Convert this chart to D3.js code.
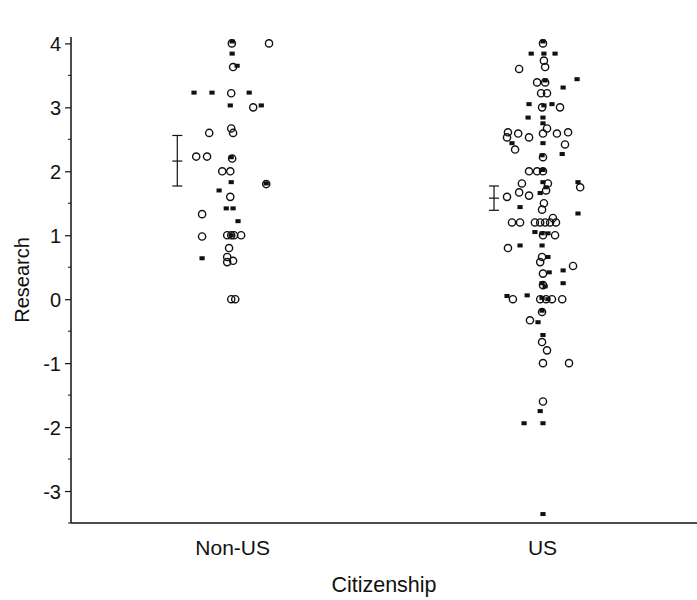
<!DOCTYPE html>
<html>
<head>
<meta charset="utf-8">
<script src="https://cdn.jsdelivr.net/npm/d3@7"></script>
<style>
  html, body { margin: 0; padding: 0; background: #fff; }
  svg text { font-family: "Liberation Sans", Arial, sans-serif; fill: #111; }
</style>
</head>
<body>
<svg id="chart" width="697" height="600"></svg>
<script>
// ---- data ----
const categories = ["Non-US", "US"];
const yTicks = [-3, -2, -1, 0, 1, 2, 3, 4];

// [position (category index + jitter), research score]
const nonUsCircles = [
  [0.999, 4.0], [1.119, 4.0], [1.003, 3.63], [0.997, 3.22], [1.068, 3.0],
  [0.926, 2.6], [0.997, 2.67], [1.003, 2.6], [0.884, 2.23], [0.919, 2.23],
  [1.0, 2.2], [0.968, 2.0], [0.994, 2.0], [1.11, 1.8], [0.994, 1.6],
  [0.903, 1.33], [0.903, 0.98], [0.984, 1.0], [0.997, 1.0], [1.006, 1.0],
  [1.029, 1.0], [0.99, 0.8], [0.984, 0.66], [0.984, 0.58], [1.003, 0.6],
  [0.997, 0.0], [1.01, 0.0]
];
const nonUsSquares = [
  [1.0, 4.03], [1.0, 3.84], [1.016, 3.65], [0.877, 3.23], [0.935, 3.23],
  [1.055, 3.23], [0.994, 3.03], [1.094, 3.03], [0.997, 2.22], [1.11, 1.81],
  [0.997, 1.83], [0.958, 1.7], [0.981, 1.42], [1.003, 1.42], [1.019, 1.22],
  [0.903, 0.64], [0.997, 1.0]
];
const usCircles = [
  [2.003, 4.0], [2.006, 3.73], [2.01, 3.63], [1.926, 3.6], [1.984, 3.39],
  [2.01, 3.39], [1.997, 3.22], [2.016, 3.22], [2.0, 3.0], [2.058, 3.0],
  [1.89, 2.61], [1.923, 2.59], [1.887, 2.53], [1.958, 2.53], [1.913, 2.34],
  [2.003, 2.59], [2.016, 2.67], [2.048, 2.59], [2.084, 2.61], [2.074, 2.42],
  [2.003, 2.22], [1.958, 2.0], [1.984, 2.0], [2.003, 2.0], [2.123, 1.75],
  [1.935, 1.81], [1.926, 1.67], [1.958, 1.62], [1.887, 1.6], [2.006, 1.5],
  [2.0, 1.4], [2.013, 1.7], [2.019, 1.81], [1.903, 1.2], [1.929, 1.2],
  [1.977, 1.2], [1.994, 1.2], [2.01, 1.2], [2.026, 1.2], [2.045, 1.2],
  [2.035, 1.27], [2.042, 1.0], [2.003, 1.0], [1.89, 0.8], [2.0, 0.66],
  [1.994, 0.58], [2.1, 0.52], [2.003, 0.4], [2.003, 0.22], [1.906, 0.0],
  [1.994, 0.0], [2.013, 0.0], [2.032, 0.0], [2.065, 0.0], [2.0, -0.2],
  [1.961, -0.33], [2.0, -0.67], [2.016, -0.8], [2.003, -1.0], [2.087, -1.0],
  [2.003, -1.6]
];
const usSquares = [
  [2.003, 4.03], [1.965, 3.84], [2.006, 3.84], [2.042, 3.84], [2.01, 3.42],
  [2.113, 3.44], [2.068, 3.31], [1.958, 3.05], [2.032, 3.05], [2.006, 3.03],
  [1.955, 2.84], [2.003, 2.84], [2.003, 2.75], [1.903, 2.44], [2.003, 2.44],
  [2.065, 2.27], [2.0, 2.25], [2.003, 2.02], [2.003, 1.83], [1.994, 1.66],
  [2.013, 1.75], [2.116, 1.83], [1.929, 1.44], [2.116, 1.34], [1.977, 1.05],
  [2.0, 1.03], [2.019, 1.03], [1.929, 0.84], [2.0, 0.84], [2.019, 0.66],
  [2.023, 0.42], [2.068, 0.45], [2.0, 0.25], [2.01, 0.2], [2.068, 0.25],
  [1.887, 0.05], [1.952, 0.06], [2.0, 0.02], [2.019, 0.0], [2.0, -0.18],
  [1.987, -0.36], [2.003, -0.56], [1.994, -1.75], [1.942, -1.94], [2.003, -1.94],
  [2.003, -3.36]
];
// error bars: [position, mean, lower, upper]
const errorBars = [
  [0.823, 2.16, 1.77, 2.56],
  [1.845, 1.58, 1.39, 1.77]
];

// ---- layout ----
(function () {
const svg = d3.select("#chart");
const mLeft = 71, mRight = 697, mTop = 37, mBottom = 523;

const x = d3.scaleLinear().domain([0.48, 2.5]).range([mLeft, mRight]);
const y = d3.scaleLinear().domain([-3.5, 4.1]).range([mBottom, mTop]);

// y axis
const yAxis = d3.axisLeft(y).tickValues(yTicks).tickSize(6).tickPadding(4).tickFormat(d => String(d));
const gy = svg.append("g").attr("transform", `translate(${mLeft},0)`).call(yAxis);
gy.select(".domain").remove();
gy.selectAll(".tick line").attr("stroke", "#111").attr("stroke-width", 1.2);
gy.selectAll(".tick text").style("font-size", "20px").attr("dy", "0.36em");
// minor ticks
const minor = d3.range(-3.5, 4.01, 1);
svg.append("g").selectAll("line").data(minor).join("line")
  .attr("x1", mLeft - 3).attr("x2", mLeft)
  .attr("y1", d => y(d)).attr("y2", d => y(d))
  .attr("stroke", "#111").attr("stroke-width", 1);
svg.append("line").attr("x1", mLeft).attr("x2", mLeft).attr("y1", mTop).attr("y2", mBottom)
  .attr("stroke", "#111").attr("stroke-width", 1.5);

// x axis
svg.append("line").attr("x1", mLeft).attr("x2", mRight).attr("y1", mBottom).attr("y2", mBottom)
  .attr("stroke", "#111").attr("stroke-width", 1.5);
const xAxis = d3.axisBottom(x).tickValues([1, 2]).tickSize(0).tickPadding(17)
  .tickFormat(d => categories[d - 1]);
const gx = svg.append("g").attr("transform", `translate(0,${mBottom})`).call(xAxis);
gx.select(".domain").remove();
gx.selectAll(".tick text").style("font-size", "21px");

// axis titles
svg.append("text").attr("transform", `translate(29,${(mTop + mBottom) / 2}) rotate(-90)`)
  .attr("text-anchor", "middle").style("font-size", "20px").text("Research");
svg.append("text").attr("x", 384).attr("y", 592)
  .attr("text-anchor", "middle").style("font-size", "21.5px").text("Citizenship");

// points
const plot = svg.append("g");
function squares(data) {
  plot.append("g").selectAll("rect").data(data).join("rect")
    .attr("x", d => x(d[0]) - 2.6).attr("y", d => y(d[1]) - 2)
    .attr("width", 5.2).attr("height", 4)
    .attr("fill", "#111");
}
function circles(data) {
  plot.append("g").selectAll("circle").data(data).join("circle")
    .attr("cx", d => x(d[0])).attr("cy", d => y(d[1])).attr("r", 3.6)
    .attr("fill", "none").attr("stroke", "#111").attr("stroke-width", 1.4);
}
circles(nonUsCircles);
circles(usCircles);
squares(nonUsSquares);
squares(usSquares);

// error bars
const eb = svg.append("g").attr("stroke", "#111").attr("stroke-width", 1.2);
errorBars.forEach(d => {
  const cx = x(d[0]);
  eb.append("line").attr("x1", cx).attr("x2", cx).attr("y1", y(d[2])).attr("y2", y(d[3]));
  [d[1], d[2], d[3]].forEach(v => {
    eb.append("line").attr("x1", cx - 5).attr("x2", cx + 5).attr("y1", y(v)).attr("y2", y(v));
  });
});
})();
</script>
</body>
</html>
